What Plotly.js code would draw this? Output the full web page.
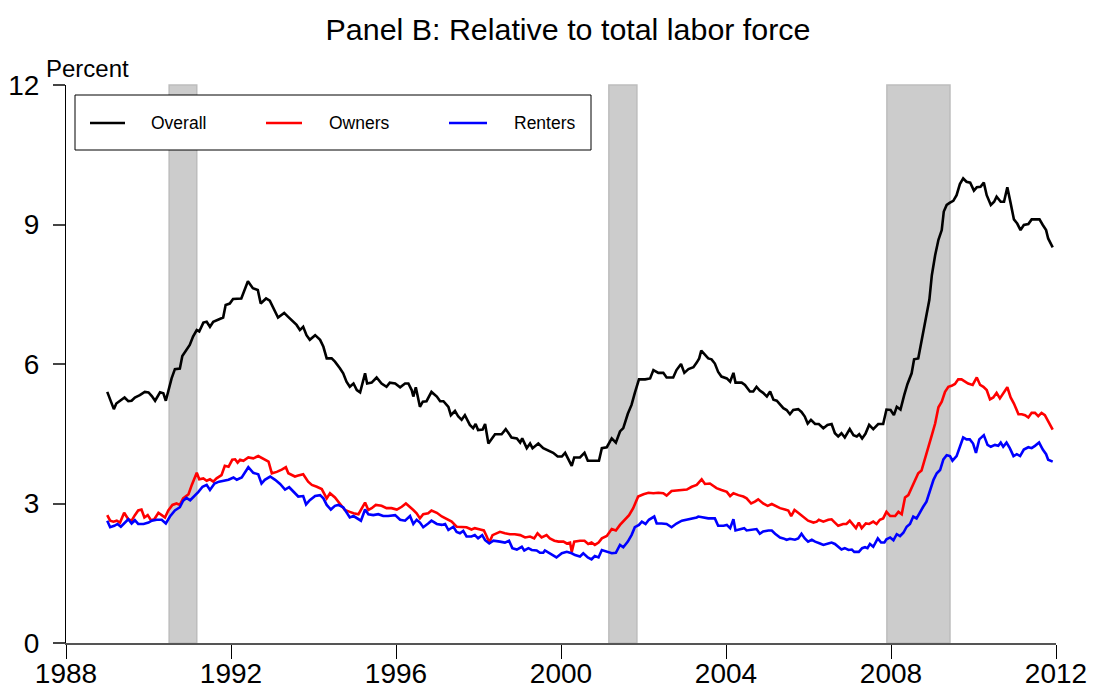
<!DOCTYPE html>
<html>
<head>
<meta charset="utf-8">
<script src="https://cdn.plot.ly/plotly-3.0.1.min.js"></script>
<style>html,body{margin:0;padding:0;background:#fff;}#chart{width:1095px;height:690px;}</style>
</head>
<body>
<div id="chart"></div>
<script>
const seriesNames = ["Overall", "Owners", "Renters"];
const seriesColors = ["#000000", "#ff0000", "#0000ff"];

const overallYears = [1989.00,1989.16,1989.22,1989.34,1989.42,1989.51,1989.59,1989.67,1989.79,1989.91,1990.00,1990.08,1990.16,1990.28,1990.36,1990.42,1990.48,1990.56,1990.64,1990.76,1990.82,1990.92,1991.00,1991.08,1991.17,1991.23,1991.33,1991.41,1991.49,1991.57,1991.69,1991.81,1991.87,1991.97,1992.05,1992.25,1992.41,1992.53,1992.65,1992.72,1992.85,1992.94,1993.14,1993.29,1993.38,
1993.59,1993.67,1993.75,1993.83,1993.91,1994.04,1994.16,1994.24,1994.32,1994.44,1994.52,1994.64,1994.72,1994.80,1994.88,1994.97,1995.05,1995.13,1995.25,1995.30,1995.41,1995.53,1995.65,1995.77,1995.85,1995.98,1996.10,1996.22,1996.30,1996.38,1996.42,1996.48,1996.58,1996.65,1996.74,1996.86,1996.99,1997.07,1997.15,1997.27,1997.33,1997.43,1997.51,1997.59,1997.67,1997.79,1997.87,1997.93,1997.99,1998.10,1998.16,1998.24,1998.32,1998.40,
1998.56,1998.66,1998.80,1998.93,1999.01,1999.06,1999.17,1999.25,1999.31,1999.45,1999.57,1999.69,1999.81,1999.92,2000.02,2000.10,2000.18,2000.26,2000.32,2000.46,2000.57,2000.65,2000.82,2000.92,2000.99,2001.11,2001.23,2001.33,2001.43,2001.51,2001.62,2001.71,2001.79,2001.89,2002.04,2002.16,2002.24,2002.36,2002.48,2002.56,2002.72,2002.80,2002.91,2002.99,2003.09,2003.21,2003.29,2003.35,2003.40,
2003.49,2003.57,2003.65,2003.73,2003.81,2003.89,2004.02,2004.10,2004.18,2004.23,2004.38,2004.46,2004.58,2004.66,2004.74,2004.82,2004.90,2004.99,2005.07,2005.15,2005.23,2005.31,2005.39,2005.47,2005.55,2005.63,2005.75,2005.83,2005.91,2005.98,2006.06,2006.16,2006.25,2006.36,2006.46,2006.56,2006.64,2006.72,2006.80,2006.88,2007.00,2007.09,2007.17,2007.23,2007.30,2007.38,2007.47,2007.57,2007.69,2007.81,
2007.89,2007.99,2008.07,2008.14,2008.23,2008.32,2008.40,2008.50,2008.56,2008.66,2008.74,2008.82,2008.93,2008.99,2009.07,2009.15,2009.23,2009.28,2009.35,2009.43,2009.51,2009.59,2009.67,2009.75,2009.83,2009.92,2010.01,2010.08,2010.17,2010.25,2010.32,2010.42,2010.50,2010.56,2010.66,2010.74,2010.82,2010.90,2010.98,2011.06,2011.14,2011.22,2011.33,2011.41,2011.53,2011.60,2011.68,2011.76,2011.81,2011.87,2011.92];
const overallValues = [5.40,5.03,5.15,5.23,5.28,5.20,5.21,5.28,5.33,5.40,5.39,5.31,5.21,5.39,5.37,5.21,5.44,5.69,5.89,5.90,6.17,6.30,6.41,6.59,6.73,6.70,6.89,6.91,6.80,6.91,6.96,7.00,7.27,7.30,7.40,7.41,7.78,7.63,7.59,7.30,7.41,7.36,7.00,7.10,7.02,
6.84,6.73,6.80,6.62,6.52,6.62,6.52,6.37,6.12,6.12,6.05,5.91,5.80,5.62,5.51,5.58,5.44,5.39,5.80,5.58,5.60,5.71,5.58,5.51,5.60,5.58,5.50,5.58,5.58,5.44,5.30,5.50,5.08,5.19,5.20,5.40,5.30,5.20,5.20,5.08,4.90,4.99,4.87,4.80,4.90,4.69,4.62,4.71,4.58,4.59,4.71,4.29,4.40,4.49,
4.49,4.60,4.42,4.40,4.31,4.40,4.19,4.29,4.19,4.29,4.19,4.14,4.09,4.01,4.01,4.09,3.95,3.81,3.99,3.99,4.09,3.92,3.92,3.92,4.19,4.21,4.40,4.31,4.55,4.62,4.93,5.12,5.38,5.67,5.67,5.69,5.87,5.81,5.81,5.71,5.71,5.87,6.00,5.81,5.89,5.93,6.03,6.12,6.29,
6.19,6.12,6.10,6.01,5.83,5.73,5.69,5.62,5.81,5.60,5.60,5.55,5.41,5.41,5.51,5.43,5.38,5.30,5.41,5.23,5.21,5.12,5.05,5.01,4.92,5.01,5.03,4.97,4.87,4.72,4.80,4.71,4.71,4.62,4.69,4.71,4.51,4.44,4.51,4.42,4.60,4.47,4.44,4.49,4.40,4.50,4.69,4.60,4.71,4.71,
5.02,5.01,4.90,5.08,5.02,5.33,5.57,5.80,6.10,6.12,6.48,6.87,7.38,7.91,8.34,8.67,8.88,9.28,9.42,9.47,9.51,9.63,9.87,9.99,9.92,9.90,9.73,9.80,9.81,9.90,9.63,9.42,9.49,9.60,9.49,9.49,9.80,9.46,9.11,9.02,8.88,8.99,9.01,9.11,9.11,9.11,8.99,8.88,8.70,8.59,8.51];

const ownersYears = [1989.00,1989.07,1989.15,1989.23,1989.31,1989.41,1989.51,1989.59,1989.67,1989.75,1989.83,1989.90,1989.98,1990.06,1990.14,1990.24,1990.32,1990.40,1990.48,1990.58,1990.68,1990.76,1990.84,1990.97,1991.05,1991.17,1991.23,1991.33,1991.41,1991.49,1991.57,1991.65,1991.77,1991.85,1991.94,1992.03,1992.10,1992.16,1992.22,1992.30,1992.42,1992.54,1992.66,1992.78,1992.91,1992.99,1993.11,1993.23,1993.33,1993.39,
1993.55,1993.63,1993.75,1993.87,1993.96,1994.08,1994.20,1994.32,1994.40,1994.52,1994.64,1994.76,1994.88,1994.97,1995.09,1995.17,1995.25,1995.33,1995.41,1995.51,1995.65,1995.77,1995.89,1996.02,1996.14,1996.24,1996.34,1996.42,1996.50,1996.58,1996.66,1996.78,1996.86,1996.99,1997.11,1997.23,1997.35,1997.47,1997.59,1997.71,1997.83,1997.91,1998.04,1998.13,1998.20,1998.26,1998.34,1998.44,
1998.52,1998.64,1998.76,1998.88,1999.01,1999.13,1999.25,1999.35,1999.43,1999.53,1999.65,1999.73,1999.84,1999.94,2000.06,2000.14,2000.22,2000.26,2000.32,2000.46,2000.57,2000.66,2000.74,2000.82,2000.91,2000.99,2001.11,2001.23,2001.33,2001.43,2001.55,2001.65,2001.75,2001.87,2002.00,2002.12,2002.24,2002.36,2002.48,2002.56,2002.68,2002.80,2002.93,2003.05,2003.17,2003.29,
2003.41,2003.49,2003.61,2003.69,2003.77,2003.89,2004.02,2004.10,2004.18,2004.30,2004.42,2004.50,2004.61,2004.70,2004.78,2004.90,2005.01,2005.11,2005.19,2005.31,2005.43,2005.51,2005.58,2005.66,2005.75,2005.87,2005.99,2006.12,2006.20,2006.25,2006.36,2006.48,2006.56,2006.64,2006.72,2006.84,2006.92,2007.00,2007.09,2007.15,2007.22,2007.29,2007.39,2007.47,2007.57,2007.65,2007.73,2007.81,
2007.89,2007.98,2008.10,2008.18,2008.26,2008.34,2008.42,2008.50,2008.58,2008.66,2008.74,2008.82,2008.91,2008.99,2009.07,2009.15,2009.23,2009.31,2009.39,2009.47,2009.55,2009.63,2009.71,2009.79,2009.87,2009.98,2010.08,2010.16,2010.24,2010.32,2010.40,2010.48,2010.56,2010.64,2010.72,2010.82,2010.90,2010.98,2011.09,2011.17,2011.25,2011.33,2011.41,2011.49,2011.57,2011.65,2011.73,2011.81,2011.92];
const ownersValues = [2.75,2.63,2.61,2.63,2.59,2.80,2.66,2.63,2.75,2.85,2.87,2.70,2.75,2.64,2.66,2.80,2.75,2.70,2.85,2.97,3.00,2.97,3.11,3.20,3.40,3.66,3.52,3.54,3.49,3.52,3.47,3.54,3.61,3.81,3.79,3.94,3.95,3.88,3.94,3.92,3.99,3.97,4.02,3.97,3.90,3.65,3.68,3.73,3.78,3.65,
3.58,3.60,3.63,3.47,3.40,3.36,3.31,3.11,3.22,3.13,3.00,2.86,2.82,2.79,2.77,2.90,3.02,2.86,2.90,2.97,2.95,2.90,2.90,2.87,2.93,3.00,2.93,2.86,2.79,2.68,2.77,2.79,2.85,2.80,2.72,2.67,2.61,2.50,2.49,2.49,2.44,2.47,2.44,2.42,2.29,2.16,2.32,2.36,
2.39,2.36,2.34,2.34,2.32,2.27,2.29,2.25,2.36,2.27,2.32,2.25,2.20,2.18,2.18,2.14,2.16,1.96,2.18,2.20,2.20,2.13,2.16,2.11,2.16,2.25,2.30,2.45,2.42,2.54,2.66,2.75,2.90,3.15,3.20,3.23,3.22,3.23,3.22,3.17,3.27,3.28,3.30,3.30,3.36,3.40,
3.52,3.42,3.43,3.38,3.33,3.29,3.25,3.16,3.22,3.18,3.15,3.11,3.00,3.04,3.09,3.00,2.95,2.99,2.95,2.90,2.87,2.85,2.73,2.86,2.80,2.72,2.63,2.59,2.61,2.65,2.61,2.65,2.66,2.59,2.52,2.56,2.56,2.63,2.54,2.47,2.59,2.47,2.57,2.56,2.61,2.56,2.65,2.68,
2.82,2.73,2.73,2.82,2.77,3.13,3.18,3.33,3.49,3.65,3.71,3.97,4.24,4.47,4.72,5.07,5.19,5.40,5.51,5.53,5.57,5.67,5.67,5.62,5.58,5.55,5.71,5.55,5.51,5.44,5.24,5.28,5.38,5.26,5.37,5.50,5.28,5.15,4.92,4.92,4.90,4.85,4.95,4.95,4.88,4.95,4.90,4.78,4.59];

const rentersYears = [1989.00,1989.07,1989.17,1989.25,1989.33,1989.43,1989.51,1989.59,1989.67,1989.75,1989.88,1990.00,1990.08,1990.20,1990.32,1990.42,1990.52,1990.64,1990.76,1990.84,1990.92,1991.01,1991.11,1991.21,1991.31,1991.41,1991.49,1991.60,1991.71,1991.81,1991.94,1992.06,1992.14,1992.26,1992.34,1992.42,1992.54,1992.66,1992.74,1992.82,1992.95,1993.07,1993.19,1993.31,1993.41,
1993.55,1993.63,1993.75,1993.82,1993.91,1994.04,1994.16,1994.24,1994.32,1994.42,1994.52,1994.60,1994.72,1994.80,1994.88,1994.97,1995.05,1995.15,1995.25,1995.33,1995.45,1995.57,1995.69,1995.81,1995.98,1996.10,1996.22,1996.34,1996.42,1996.50,1996.58,1996.66,1996.78,1996.86,1996.99,1997.11,1997.19,1997.27,1997.39,1997.47,1997.55,1997.63,1997.71,1997.83,1997.91,1997.99,1998.09,1998.16,1998.26,1998.36,
1998.52,1998.64,1998.74,1998.82,1998.93,1999.05,1999.11,1999.21,1999.29,1999.41,1999.49,1999.57,1999.61,1999.73,1999.81,1999.89,2000.02,2000.14,2000.26,2000.34,2000.46,2000.54,2000.65,2000.74,2000.82,2000.91,2000.99,2001.11,2001.23,2001.33,2001.43,2001.51,2001.62,2001.71,2001.79,2001.89,2001.96,2002.05,2002.13,2002.26,2002.32,2002.44,2002.56,2002.68,2002.80,2002.93,2003.05,2003.17,2003.29,
2003.33,2003.45,2003.57,2003.73,2003.81,2003.94,2004.02,2004.10,2004.18,2004.23,2004.34,2004.44,2004.50,2004.62,2004.74,2004.82,2004.90,2005.03,2005.11,2005.19,2005.31,2005.39,2005.47,2005.55,2005.67,2005.75,2005.83,2005.91,2005.99,2006.08,2006.16,2006.28,2006.36,2006.48,2006.56,2006.64,2006.72,2006.80,2006.88,2006.97,2007.05,2007.11,2007.22,2007.30,2007.37,2007.43,2007.49,2007.57,2007.68,2007.76,2007.84,
2007.89,2007.98,2008.06,2008.14,2008.22,2008.30,2008.38,2008.46,2008.54,2008.62,2008.70,2008.78,2008.86,2008.94,2009.03,2009.11,2009.19,2009.27,2009.35,2009.43,2009.49,2009.59,2009.67,2009.75,2009.83,2009.91,2009.99,2010.06,2010.14,2010.25,2010.34,2010.42,2010.52,2010.60,2010.66,2010.72,2010.80,2010.88,2010.97,2011.05,2011.13,2011.22,2011.33,2011.41,2011.49,2011.59,2011.68,2011.76,2011.81,2011.92];
const rentersValues = [2.63,2.49,2.52,2.56,2.50,2.59,2.66,2.57,2.64,2.56,2.56,2.59,2.63,2.65,2.65,2.57,2.72,2.85,2.92,3.06,3.12,3.07,3.15,3.25,3.36,3.40,3.29,3.43,3.47,3.49,3.51,3.56,3.51,3.56,3.68,3.78,3.66,3.63,3.43,3.51,3.58,3.51,3.42,3.30,3.35,
3.22,3.15,3.16,2.98,3.07,3.16,3.18,3.11,2.97,2.87,2.95,2.97,2.92,2.82,2.70,2.73,2.68,2.63,2.87,2.77,2.75,2.77,2.73,2.73,2.75,2.65,2.63,2.73,2.56,2.65,2.59,2.49,2.57,2.63,2.56,2.54,2.56,2.43,2.50,2.39,2.36,2.41,2.29,2.29,2.32,2.25,2.32,2.21,2.14,2.20,
2.18,2.16,2.20,2.04,2.01,2.07,1.99,2.04,2.00,1.99,1.94,1.94,1.99,1.93,1.89,1.84,1.93,1.96,1.93,1.89,1.86,1.93,1.84,1.80,1.87,1.84,2.00,1.96,1.93,1.94,2.11,2.06,2.18,2.32,2.49,2.54,2.61,2.56,2.65,2.72,2.57,2.57,2.56,2.49,2.57,2.63,2.65,2.68,2.70,
2.72,2.70,2.68,2.68,2.52,2.52,2.54,2.47,2.66,2.42,2.45,2.47,2.42,2.43,2.45,2.35,2.40,2.42,2.42,2.35,2.27,2.25,2.22,2.24,2.22,2.25,2.35,2.25,2.18,2.22,2.18,2.14,2.11,2.14,2.16,2.13,2.06,2.01,2.04,2.00,2.01,1.96,1.96,2.04,2.06,2.04,2.13,2.07,2.25,2.16,2.16,
2.23,2.27,2.21,2.34,2.30,2.37,2.50,2.56,2.72,2.68,2.82,2.93,3.04,3.25,3.51,3.65,3.72,3.95,4.04,4.02,3.92,4.02,4.22,4.42,4.38,4.38,4.29,4.09,4.38,4.47,4.26,4.22,4.26,4.24,4.31,4.22,4.31,4.19,4.02,4.06,4.02,4.16,4.21,4.19,4.24,4.31,4.16,4.06,3.94,3.90];

const recessionStarts = [1990.50, 2001.16, 2007.90];
const recessionEnds = [1991.17, 2001.84, 2009.43];

const xTicks = [1988, 1992, 1996, 2000, 2004, 2008, 2012];
const yTicks = [0, 3, 6, 9, 12];

const FONT = "Liberation Sans, Arial, Helvetica, sans-serif";
const W = 1095, H = 690;
const M = {l: 66, r: 39, t: 85, b: 47};
const plotW = W - M.l - M.r, plotH = H - M.t - M.b;
const px2x = p => (p - M.l) / plotW;      // pixel -> paper x
const py2y = p => (H - M.b - p) / plotH;  // pixel -> paper y

const xsets = [overallYears, ownersYears, rentersYears];
const ysets = [overallValues, ownersValues, rentersValues];
const traces = seriesNames.map((n, i) => ({
  type: "scatter", mode: "lines", name: n,
  x: xsets[i], y: ysets[i],
  line: {color: seriesColors[i], width: 2.6},
  showlegend: false, hoverinfo: "skip"
}));

const shapes = recessionStarts.map((s, i) => ({
  type: "rect", xref: "x", yref: "paper", x0: s, x1: recessionEnds[i], y0: 0, y1: 1,
  fillcolor: "#cccccc", line: {color: "#bdbdbd", width: 1.5}, layer: "below"
}));

// legend box (drawn manually to match the original layout)
shapes.push({type: "rect", xref: "paper", yref: "paper",
  x0: px2x(75), x1: px2x(591), y0: py2y(150), y1: py2y(95),
  fillcolor: "#ffffff", line: {color: "#000000", width: 1}, layer: "above"});
const legLineX = [[90, 125], [266, 302], [449, 487]];
const legTextX = [149, 327, 512];
const annotations = [];
seriesNames.forEach((n, i) => {
  shapes.push({type: "line", xref: "paper", yref: "paper",
    x0: px2x(legLineX[i][0]), x1: px2x(legLineX[i][1]), y0: py2y(123), y1: py2y(123),
    line: {color: seriesColors[i], width: 2.6}, layer: "above"});
  annotations.push({xref: "paper", yref: "paper", x: px2x(legTextX[i]), y: py2y(123),
    xanchor: "left", yanchor: "middle", showarrow: false, text: n,
    font: {family: FONT, size: 17.5, color: "#000"}});
});
annotations.push({xref: "paper", yref: "paper", x: px2x(44), y: py2y(68),
  xanchor: "left", yanchor: "middle", showarrow: false, text: "Percent",
  font: {family: FONT, size: 24, color: "#000"}});

const layout = {
  width: W, height: H,
  margin: M,
  paper_bgcolor: "#ffffff", plot_bgcolor: "#ffffff",
  font: {family: FONT, color: "#000"},
  title: {text: "Panel B: Relative to total labor force", x: 568 / W, xanchor: "center",
    y: 1 - 29 / H, yanchor: "middle", font: {family: FONT, size: 30.4, color: "#000"}},
  xaxis: {range: [1988, 2012], tickvals: xTicks, ticktext: xTicks.map(String),
    showgrid: false, zeroline: false, showline: true, linecolor: "#555555", linewidth: 2,
    ticks: "outside", ticklen: 14, tickcolor: "#000", tickwidth: 1, ticklabelstandoff: -10,
    tickfont: {family: FONT, size: 28, color: "#000"}, fixedrange: true},
  yaxis: {range: [0, 12], tickvals: yTicks, ticktext: yTicks.map(String),
    showgrid: false, zeroline: false, showline: true, linecolor: "#000", linewidth: 1,
    ticks: "outside", ticklen: 12, tickcolor: "#444", tickwidth: 2, ticklabelstandoff: 8,
    tickfont: {family: FONT, size: 28, color: "#000"}, fixedrange: true},
  shapes: shapes,
  annotations: annotations,
  showlegend: false
};

Plotly.newPlot("chart", traces, layout, {displayModeBar: false, staticPlot: true});
</script>
</body>
</html>
